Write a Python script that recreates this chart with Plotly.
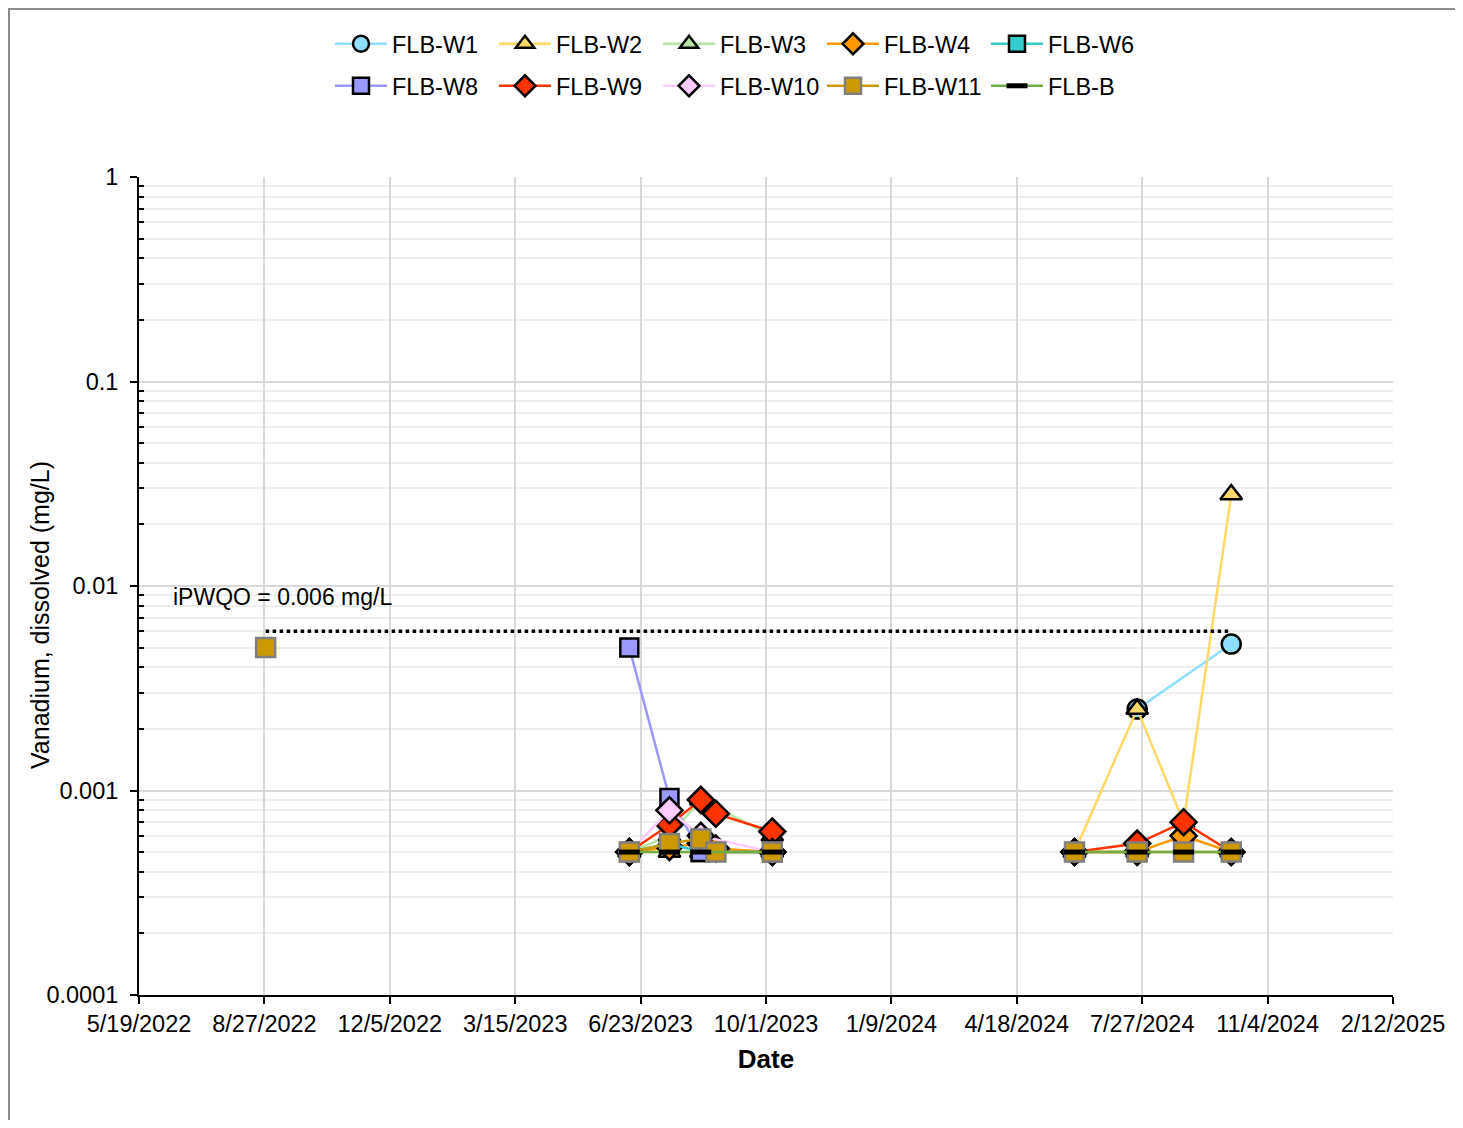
import math
import plotly.graph_objects as go

# ---------------- data ----------------
sample_dates = ["2022-08-28", "2023-06-14", "2023-07-16", "2023-08-10", "2023-08-22",
                "2023-10-06", "2024-06-03", "2024-07-23", "2024-08-29", "2024-10-06"]
campaign = [0, 1, 1, 1, 1, 1, 2, 2, 2, 2]

series_names = ["FLB-W1", "FLB-W2", "FLB-W3", "FLB-W4", "FLB-W6",
                "FLB-W8", "FLB-W9", "FLB-W10", "FLB-W11", "FLB-B"]

W1 = [None, None, None, None, None, None, None, 0.0025, None, 0.0052]
W2 = [None, 0.0005, 0.0005, 0.0005, None, 0.0005, 0.0005, 0.0025, 0.0007, 0.028]
W3 = [None, 0.0005, 0.0006, 0.0009, None, 0.0006, 0.0005, 0.0005, 0.0006, 0.0005]
W4 = [None, 0.0005, 0.00053, 0.00055, 0.00052, 0.0005, 0.0005, 0.0005, 0.0006, 0.0005]
W6 = [None, 0.0005, 0.00055, 0.0005, None, 0.0005, None, None, None, None]
W8 = [None, 0.005, 0.00092, 0.0005, None, 0.0005, None, None, None, None]
W9 = [None, 0.0005, 0.00068, 0.0009, 0.00077, 0.00063, 0.0005, 0.00055, 0.0007, 0.0005]
W10 = [None, 0.0005, 0.0008, 0.0006, None, 0.0005, None, None, None, None]
W11 = [0.005, 0.0005, 0.00055, 0.00058, 0.0005, 0.0005, 0.0005, 0.0005, 0.0005, 0.0005]
FLB_B = [None, 0.0005, 0.0005, 0.0005, None, 0.0005, 0.0005, 0.0005, 0.0005, 0.0005]

series_values = [W1, W2, W3, W4, W6, W8, W9, W10, W11, FLB_B]

guideline_value = 0.006
guideline_dates = ["2022-08-28", "2024-10-06"]
guideline_label = "iPWQO = 0.006 mg/L"

x_tickvals = ["2022-05-19", "2022-08-27", "2022-12-05", "2023-03-15", "2023-06-23",
              "2023-10-01", "2024-01-09", "2024-04-18", "2024-07-27", "2024-11-04", "2025-02-12"]
x_ticktext = ["5/19/2022", "8/27/2022", "12/5/2022", "3/15/2023", "6/23/2023",
              "10/1/2023", "1/9/2024", "4/18/2024", "7/27/2024", "11/4/2024", "2/12/2025"]
y_tickvals = [0.0001, 0.001, 0.01, 0.1, 1]
y_ticktext = ["0.0001", "0.001", "0.01", "0.1", "1"]

# ---------------- styles ----------------
styles = {
    "FLB-W1": dict(color="#8FDFFF", symbol="circle", fill="#8FDFFF", mline="black", size=19),
    "FLB-W2": dict(color="#FFD966", symbol="triangle-up", fill="#FFD966", mline="black", size=19),
    "FLB-W3": dict(color="#B4E5A2", symbol="triangle-up", fill="#B4E5A2", mline="black", size=19),
    "FLB-W4": dict(color="#FF9900", symbol="diamond", fill="#FF9900", mline="black", size=20),
    "FLB-W6": dict(color="#33CCCC", symbol="square", fill="#33CCCC", mline="black", size=18),
    "FLB-W8": dict(color="#9999FF", symbol="square", fill="#9999FF", mline="black", size=18),
    "FLB-W9": dict(color="#FF3300", symbol="diamond", fill="#FF3300", mline="black", size=20),
    "FLB-W10": dict(color="#FFCCFF", symbol="diamond", fill="#FFCCFF", mline="black", size=20),
    "FLB-W11": dict(color="#CC9900", symbol="square", fill="#CC9900", mline="#7F7F7F", size=19),
    "FLB-B": dict(color="#70AD47", symbol="line-ew", fill="black", mline="black", size=15),
}

FONT = "Liberation Sans, Arial, sans-serif"

fig = go.Figure()

for i, (name, vals) in enumerate(zip(series_names, series_values)):
    xs, ys = [], []
    last_c = None
    for d, c, v in zip(sample_dates, campaign, vals):
        if v is None:
            continue
        if last_c is not None and c != last_c:
            xs.append(None)
            ys.append(None)
        xs.append(d)
        ys.append(v)
        last_c = c
    st = styles[name]
    lw = 5 if st["symbol"] == "line-ew" else 2.5
    fig.add_trace(go.Scatter(
        x=xs, y=ys, name=name, mode="lines+markers", connectgaps=False,
        line=dict(color=st["color"], width=2.5),
        marker=dict(symbol=st["symbol"], size=st["size"], color=st["fill"],
                    line=dict(color=st["mline"], width=lw)),
        legend="legend" if i < 5 else "legend2",
    ))

fig.add_trace(go.Scatter(
    x=guideline_dates, y=[guideline_value, guideline_value], mode="lines",
    line=dict(color="black", width=3.5, dash="dot"), showlegend=False, hoverinfo="skip",
))

# page offset (body margin) = 8 px
OFF = 8
W, H = 1447, 1112
L, T, PW, PH = 139 - OFF, 177 - OFF, 1254, 818
R = W - L - PW
B = H - T - PH

fig.add_annotation(x=(171 - 139) / PW, xref="paper", y=math.log10(guideline_value), yref="y",
                   yshift=19, text=guideline_label, showarrow=False, xanchor="left",
                   yanchor="bottom", font=dict(family=FONT, size=23, color="black"))

fig.add_annotation(x=(40 - 139) / PW, xref="paper", y=1 - (615 - 177) / PH, yref="paper",
                   text="Vanadium, dissolved (mg/L)", textangle=-90, showarrow=False,
                   xanchor="center", yanchor="middle",
                   font=dict(family=FONT, size=25, color="black"))

# outer border of the chart area
fig.add_shape(type="rect", xref="paper", yref="paper",
              x0=(9 - 139) / PW, x1=(1480 - 139) / PW,
              y0=1 - (1150 - 177) / PH, y1=1 + (177 - 9) / PH,
              line=dict(color="#8C8C8C", width=2), fillcolor="rgba(0,0,0,0)", layer="below")

legend_common = dict(orientation="h", xanchor="left", yanchor="middle",
                     font=dict(family=FONT, size=23.5, color="black"),
                     entrywidth=97, entrywidthmode="pixels", itemwidth=52,
                     bgcolor="rgba(0,0,0,0)", tracegroupgap=0)

fig.update_layout(
    width=W, height=H,
    margin=dict(l=L, r=R, t=T, b=B, autoexpand=False),
    paper_bgcolor="white", plot_bgcolor="white",
    font=dict(family=FONT, size=23, color="black"),
    legend=dict(x=(330 - 139) / PW, y=1 + (177 - 44) / PH, **legend_common),
    legend2=dict(x=(330 - 139) / PW, y=1 + (177 - 86) / PH, **legend_common),
    xaxis=dict(
        type="date", range=["2022-05-19", "2025-02-12"],
        tickvals=x_tickvals, ticktext=x_ticktext,
        showgrid=True, gridcolor="#D9D9D9", gridwidth=2,
        showline=True, linecolor="black", linewidth=2,
        ticks="outside", ticklen=7, tickcolor="black", tickwidth=1.5,
        tickfont=dict(family=FONT, size=23.5),
        title=dict(text="<b>Date</b>", font=dict(family=FONT, size=26), standoff=14),
        zeroline=False,
    ),
    yaxis=dict(
        type="log", range=[-4, 0],
        tickvals=y_tickvals, ticktext=y_ticktext,
        showgrid=True, gridcolor="#D9D9D9", gridwidth=2,
        showline=True, linecolor="black", linewidth=2,
        ticks="outside", ticklen=7, tickcolor="black", tickwidth=1.5,
        tickfont=dict(family=FONT, size=23.5), ticklabelstandoff=7,
        minor=dict(ticks="inside", ticklen=5, tickcolor="black", showgrid=True,
                   gridcolor="#EEEEEE", gridwidth=1.5,
                   tickvals=[m * 10 ** e for e in range(-4, 0) for m in range(2, 10)]),
        zeroline=False,
    ),
)

fig.write_html("out.html")
